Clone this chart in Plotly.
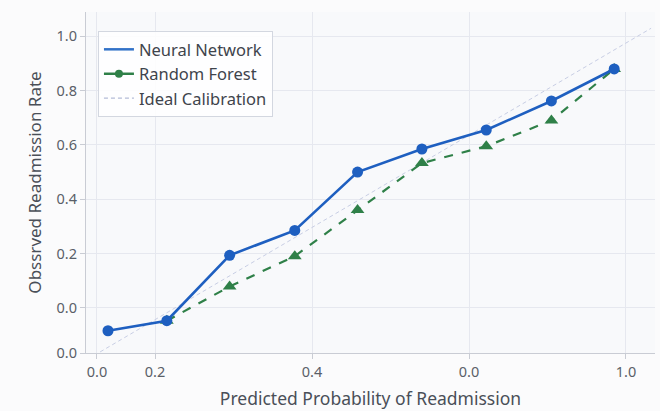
import plotly.graph_objects as go

# Binned calibration points
pred_nn = [0.14, 0.215, 0.295, 0.378, 0.458, 0.54, 0.622, 0.705, 0.785]
obs_nn = [-0.085, -0.048, 0.193, 0.285, 0.50, 0.585, 0.655, 0.762, 0.88]

pred_rf = [0.215, 0.295, 0.378, 0.458, 0.54, 0.622, 0.705, 0.785]
obs_rf = [-0.048, 0.078, 0.19, 0.36, 0.533, 0.595, 0.69, 0.88]

ideal_x = [0.13, 0.832]
ideal_y = [-0.163, 1.03]

# Axis ticks
x_tickvals = [0.126, 0.2, 0.4, 0.6, 0.8]
x_ticktext = ["0.0", "0.2", "0.4", "0.0", "1.0"]
y_tickvals = [-0.167, 0.0, 0.2, 0.4, 0.6, 0.8, 1.0]
y_ticktext = ["0.0", "0.0", "0.2", "0.4", "0.6", "0.8", "1.0"]

BLUE = "#1e5fc0"
GREEN = "#2f8048"
IDEAL = "#c8cee4"
FONT = "Noto Sans, Open Sans, sans-serif"

fig = go.Figure()

fig.add_trace(go.Scatter(
    x=ideal_x, y=ideal_y, mode="lines",
    line=dict(color=IDEAL, width=1, dash="4px,3px"),
    showlegend=False, hoverinfo="skip"))

fig.add_trace(go.Scatter(
    x=pred_rf, y=obs_rf, mode="lines+markers",
    line=dict(color=GREEN, width=2.2, dash="dash"),
    marker=dict(symbol="triangle-up", size=12, color=GREEN),
    showlegend=False))

fig.add_trace(go.Scatter(
    x=pred_nn, y=obs_nn, mode="lines+markers",
    line=dict(color=BLUE, width=2.6),
    marker=dict(symbol="circle", size=11, color=BLUE),
    showlegend=False))

# Legend entries
fig.add_trace(go.Scatter(
    x=[None], y=[None], mode="lines", name="Neural Network",
    line=dict(color="#3272c8", width=2.5)))
fig.add_trace(go.Scatter(
    x=[None], y=[None], mode="lines+markers", name="Random Forest",
    line=dict(color=GREEN, width=2.5),
    marker=dict(symbol="circle", size=8, color=GREEN)))
fig.add_trace(go.Scatter(
    x=[None], y=[None], mode="lines", name="Ideal Calibration",
    line=dict(color="#b4bcd8", width=1.2, dash="4px,3px")))

axis_common = dict(
    showline=True, linecolor="#c9ccd4", linewidth=1.2,
    showgrid=True, gridcolor="#e6e8ef", gridwidth=1,
    zeroline=False, ticks="outside", ticklen=5, tickcolor="#c9ccd4",
    tickfont=dict(family=FONT, size=14.5, color="#5a5f68"),
)

fig.update_layout(
    width=660, height=411,
    margin=dict(l=86, r=5, t=12, b=58),
    paper_bgcolor="#fbfbfc",
    plot_bgcolor="#f8f9fb",
    font=dict(family=FONT, color="#4a4f58"),
    xaxis=dict(
        range=[0.112, 0.837],
        tickvals=x_tickvals, ticktext=x_ticktext,
        title=dict(text="Predicted Probability of Readmission",
                   font=dict(family=FONT, size=17.5, color="#4a4f58"),
                   standoff=13),
        **axis_common),
    yaxis=dict(
        range=[-0.167, 1.09],
        tickvals=y_tickvals, ticktext=y_ticktext,
        title=dict(text="Obssrved Readmission Rate",
                   font=dict(family=FONT, size=17, color="#4a4f58"),
                   standoff=10),
        **axis_common),
    legend=dict(
        x=0.021, y=0.944, xanchor="left", yanchor="top",
        bgcolor="rgba(255,255,255,0.85)",
        bordercolor="#d3d7e0", borderwidth=1,
        font=dict(family=FONT, size=16.5, color="#3f444c"),
        itemwidth=30,
    ),
)

fig.write_html("out.html")
